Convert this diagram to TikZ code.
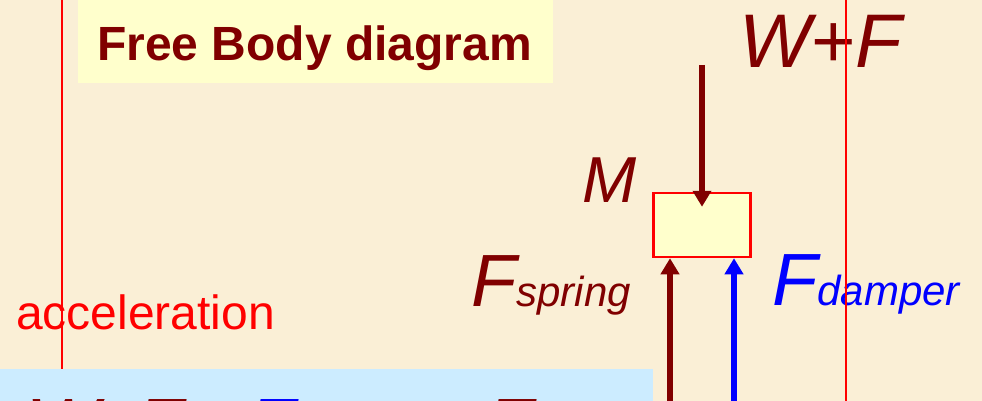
\documentclass[tikz,border=0pt]{standalone}
\usepackage{fontspec}
\setmainfont{Liberation Sans}
\usetikzlibrary{arrows.meta}
\definecolor{parchment}{HTML}{FAEFD6}
\definecolor{maroon}{HTML}{800000}
\definecolor{paleyellow}{HTML}{FFFFCC}
\definecolor{paleblue}{HTML}{CCECFF}
\newcommand{\fsz}[1]{\fontsize{#1}{#1}\selectfont}
\tikzset{
  lbl/.style={inner sep=0pt, anchor=base west},
  force/.style={line width=6pt, -{Triangle[width=18pt,length=16pt]}},
  divider/.style={red, line width=2pt},
}

\begin{document}
\begin{tikzpicture}[x=1pt,y=-1pt]
\useasboundingbox (0,0) rectangle (982,401);
\clip (0,0) rectangle (982,401);
\fill[parchment] (0,0) rectangle (982,401);
% title
\fill[paleyellow] (78,0) rectangle (553,83);
\node[lbl, text=maroon, font=\fsz{48}\bfseries] (title) at (97,61) {Free Body diagram};
% the mass and its labels
\node[draw=red, line width=2.5pt, fill=paleyellow, minimum width=97pt, minimum height=64pt, inner sep=0pt] (mass) at (702,225) {};
\node[lbl, text=maroon, font=\fsz{65}\itshape] (mlbl) at (582,202) {M};
\node[lbl, text=maroon, font=\fsz{76}\itshape] (wf) at (739,68) {W+F};
\node[lbl, text=maroon, font=\fsz{74}\itshape] (fspring) at (471,306) {F\fsz{42}spring};
\node[lbl, text=blue, font=\fsz{74}\itshape] (fdamper) at (772,305) {F\fsz{42}damper};
\node[lbl, text=red, font=\fsz{48}] (accel) at (16,329) {acceleration};
% forces
\coordinate (wftail) at (702,65);
\coordinate (springtail) at (670,410);
\coordinate (dampertail) at (734,410);
\draw[force, maroon] (wftail) -- ([yshift=-15pt]mass.north);
\draw[force, maroon] (springtail) -- (springtail |- mass.south);
\draw[force, blue] (dampertail) -- (dampertail |- mass.south);
% dividers
\draw[divider] (62,0) -- (62,401);
\draw[divider] (846,0) -- (846,401);
% equation
\fill[paleblue] (0,369) rectangle (653,401);
\begin{scope}[every node/.style={lbl, font=\fsz{77}\itshape}]
\node[text=maroon] (eqw) at (26,452) {W+};
\node[text=maroon] (eqf) at (136,452) {F −};
\node[text=blue] (eqdamper) at (248,452) {F\fsz{42}damper};
\node[text=maroon] (eqspring) at (486,452) {F\fsz{42}spring};
\end{scope}
\end{tikzpicture}
\end{document}
